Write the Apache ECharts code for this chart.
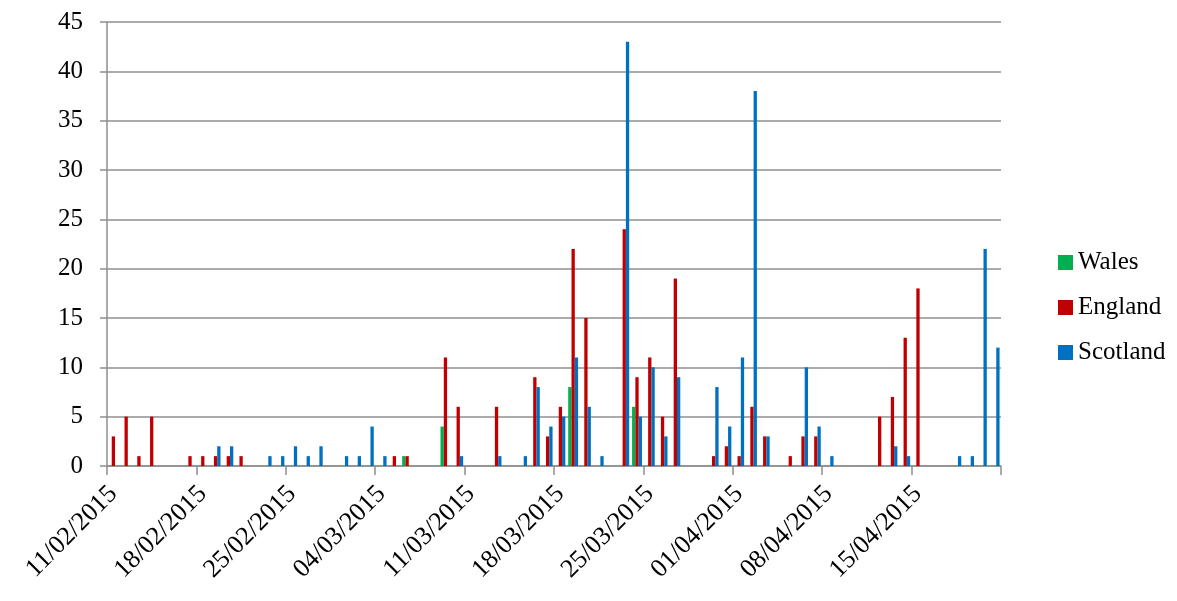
<!DOCTYPE html>
<html>
<head>
<meta charset="utf-8">
<script src="https://cdn.jsdelivr.net/npm/echarts@6/dist/echarts.min.js"></script>
<style>
  html, body { margin: 0; padding: 0; background: #ffffff; }
  #chart { width: 1177px; height: 601px; }
</style>
</head>
<body>
<div id="chart"></div>
<script>
// Daily reports, 11 Feb – 21 Apr 2015
const dates = [
  '11/02/2015','12/02/2015','13/02/2015','14/02/2015','15/02/2015','16/02/2015','17/02/2015',
  '18/02/2015','19/02/2015','20/02/2015','21/02/2015','22/02/2015','23/02/2015','24/02/2015',
  '25/02/2015','26/02/2015','27/02/2015','28/02/2015','01/03/2015','02/03/2015','03/03/2015',
  '04/03/2015','05/03/2015','06/03/2015','07/03/2015','08/03/2015','09/03/2015','10/03/2015',
  '11/03/2015','12/03/2015','13/03/2015','14/03/2015','15/03/2015','16/03/2015','17/03/2015',
  '18/03/2015','19/03/2015','20/03/2015','21/03/2015','22/03/2015','23/03/2015','24/03/2015',
  '25/03/2015','26/03/2015','27/03/2015','28/03/2015','29/03/2015','30/03/2015','31/03/2015',
  '01/04/2015','02/04/2015','03/04/2015','04/04/2015','05/04/2015','06/04/2015','07/04/2015',
  '08/04/2015','09/04/2015','10/04/2015','11/04/2015','12/04/2015','13/04/2015','14/04/2015',
  '15/04/2015','16/04/2015','17/04/2015','18/04/2015','19/04/2015','20/04/2015','21/04/2015'
];

const wales = [
  0,0,0,0,0,0,0,0,0,0,
  0,0,0,0,0,0,0,0,0,0,
  0,0,0,1,0,0,4,0,0,0,
  0,0,0,0,0,0,8,0,0,0,
  0,6,0,0,0,0,0,0,0,0,
  0,0,0,0,0,0,0,0,0,0,
  0,0,0,0,0,0,0,0,0,0
];

const england = [
  3,5,1,5,0,0,1,1,1,1,
  1,0,0,0,0,0,0,0,0,0,
  0,0,1,1,0,0,11,6,0,0,
  6,0,0,9,3,6,22,15,0,0,
  24,9,11,5,19,0,0,1,2,1,
  6,3,0,1,3,3,0,0,0,0,
  5,7,13,18,0,0,0,0,0,0
];

const scotland = [
  0,0,0,0,0,0,0,0,2,2,
  0,0,1,1,2,1,2,0,1,1,
  4,1,0,0,0,0,0,1,0,0,
  1,0,1,8,4,5,11,6,1,0,
  43,5,10,3,9,0,0,8,4,11,
  38,3,0,0,10,4,1,0,0,0,
  0,2,1,0,0,0,1,1,22,12
];

const FONT = '"Liberation Serif", "DejaVu Serif", serif';
const GRID = '#8f8f8f';

const chart = echarts.init(document.getElementById('chart'), null, { renderer: 'canvas' });

function barSeries(name, data, color) {
  return {
    name: name,
    type: 'bar',
    data: data,
    barWidth: 3.3,
    barGap: '0%',
    itemStyle: { color: color },
    emphasis: { disabled: true }
  };
}

chart.setOption({
  animation: false,
  backgroundColor: '#ffffff',
  textStyle: { fontFamily: FONT },
  grid: { left: 107, right: 176, top: 22, bottom: 135 },
  legend: {
    orient: 'vertical',
    left: 1058,
    top: 250,
    padding: 0,
    itemWidth: 15,
    itemHeight: 15,
    itemGap: 20,
    icon: 'rect',
    textStyle: { fontFamily: FONT, fontSize: 25, lineHeight: 25, color: '#000000' },
    data: ['Wales', 'England', 'Scotland']
  },
  xAxis: {
    type: 'category',
    data: dates,
    boundaryGap: true,
    axisLine: { lineStyle: { color: GRID, width: 1.5 } },
    axisTick: { show: true, interval: 6, length: 9, lineStyle: { color: GRID, width: 1.5 } },
    axisLabel: {
      interval: 6,
      rotate: 45,
      margin: 24,
      fontFamily: FONT,
      fontSize: 26,
      color: '#000000'
    }
  },
  yAxis: {
    type: 'value',
    min: 0,
    max: 45,
    interval: 5,
    axisLine: { show: true, lineStyle: { color: GRID, width: 1.5 } },
    axisTick: { show: true, length: 7, lineStyle: { color: GRID, width: 1.5 } },
    splitLine: { lineStyle: { color: GRID, width: 1.5 } },
    axisLabel: { margin: 24, fontFamily: FONT, fontSize: 25, color: '#000000' }
  },
  series: [
    barSeries('Wales', wales, '#00b050'),
    barSeries('England', england, '#c00000'),
    barSeries('Scotland', scotland, '#0070c0')
  ]
});
</script>
</body>
</html>
